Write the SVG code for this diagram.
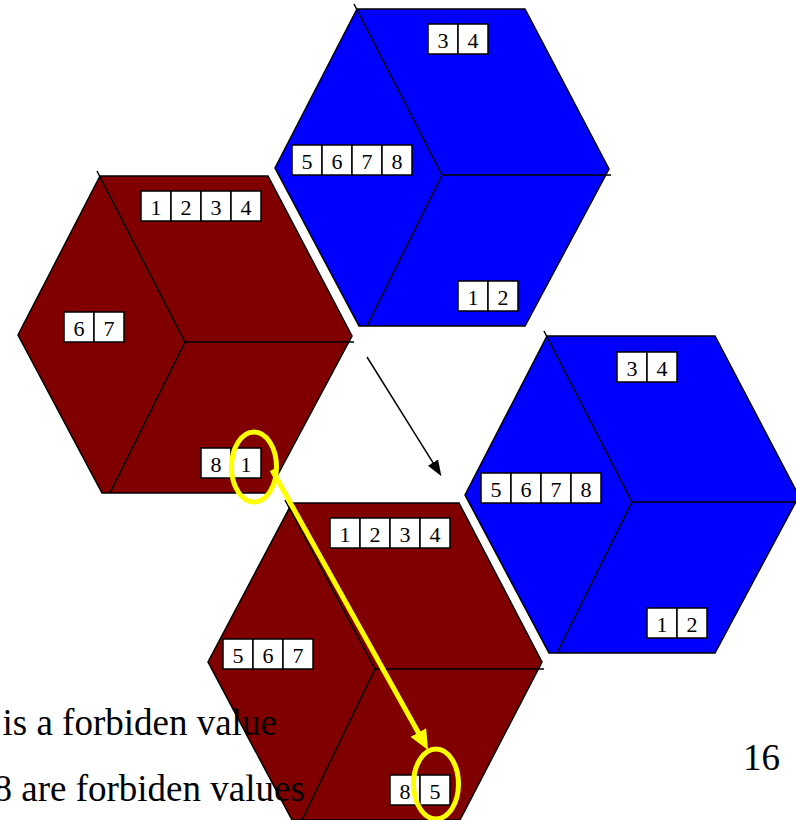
<svg xmlns="http://www.w3.org/2000/svg" width="796" height="820" viewBox="0 0 796 820">
<style>
.blue{fill:#0000FF;stroke:#000;stroke-width:1.5;stroke-linejoin:miter}
.red{fill:#800000;stroke:#000;stroke-width:1.5;stroke-linejoin:miter}
.edge{fill:none;stroke:#000;stroke-width:1.5}
.cell{fill:#fff;stroke:#000;stroke-width:1.5}
.d{font-family:"Liberation Serif","Times New Roman",serif;font-size:22px;fill:#000;text-anchor:middle}
.note{font-family:"Liberation Serif","Times New Roman",serif;font-size:37px;fill:#000}
.yl{fill:none;stroke:#FFFF00;stroke-width:5}
</style>
<defs>
<marker id="blackhead" markerUnits="userSpaceOnUse" markerWidth="16" markerHeight="12" refX="5" refY="6" orient="auto">
<path d="M0,0 L16,6 L0,12 z" fill="#000"/>
</marker>
<marker id="yellowhead" markerUnits="userSpaceOnUse" markerWidth="20" markerHeight="18" refX="8" refY="9" orient="auto">
<path d="M0,0 L20,9 L0,18 z" fill="#FFFF00"/>
</marker>
</defs>

<g id="cube-blue-top" transform="translate(357,9)">
<polygon class="blue" points="0,0 168,0 252,160 168,317 2,317 -82,159"/>
<path class="edge" d="M-3,-5 L85,166 L10,317 M85,166 L254,166"/>
</g>
<g id="labels-blue-top">
<rect class="cell" x="428" y="24" width="30" height="30"/><rect class="cell" x="458" y="24" width="30" height="30"/>
<text class="d" x="443" y="47.5">3</text><text class="d" x="473" y="47.5">4</text>
<rect class="cell" x="292" y="145" width="30" height="30"/><rect class="cell" x="322" y="145" width="30" height="30"/><rect class="cell" x="352" y="145" width="30" height="30"/><rect class="cell" x="382" y="145" width="30" height="30"/>
<text class="d" x="307" y="168.5">5</text><text class="d" x="337" y="168.5">6</text><text class="d" x="367" y="168.5">7</text><text class="d" x="397" y="168.5">8</text>
<rect class="cell" x="458" y="281" width="30" height="30"/><rect class="cell" x="488" y="281" width="30" height="30"/>
<text class="d" x="473" y="304.5">1</text><text class="d" x="503" y="304.5">2</text>
</g>

<g id="cube-red-left" transform="translate(100,176)">
<polygon class="red" points="0,0 168,0 252,160 168,317 2,317 -82,159"/>
<path class="edge" d="M-3,-5 L85,166 L10,317 M85,166 L254,166"/>
</g>
<g id="labels-red-left">
<rect class="cell" x="141" y="191" width="30" height="30"/><rect class="cell" x="171" y="191" width="30" height="30"/><rect class="cell" x="201" y="191" width="30" height="30"/><rect class="cell" x="231" y="191" width="30" height="30"/>
<text class="d" x="156" y="214.5">1</text><text class="d" x="186" y="214.5">2</text><text class="d" x="216" y="214.5">3</text><text class="d" x="246" y="214.5">4</text>
<rect class="cell" x="64" y="312" width="30" height="30"/><rect class="cell" x="94" y="312" width="30" height="30"/>
<text class="d" x="79" y="335.5">6</text><text class="d" x="109" y="335.5">7</text>
<rect class="cell" x="201" y="448" width="30" height="30"/><rect class="cell" x="231" y="448" width="30" height="30"/>
<text class="d" x="216" y="471.5">8</text><text class="d" x="246" y="471.5">1</text>
</g>

<g id="cube-blue-right" transform="translate(547,336)">
<polygon class="blue" points="0,0 168,0 252,160 168,317 2,317 -82,159"/>
<path class="edge" d="M-3,-5 L85,166 L10,317 M85,166 L254,166"/>
</g>
<g id="labels-blue-right">
<rect class="cell" x="617" y="352" width="30" height="30"/><rect class="cell" x="647" y="352" width="30" height="30"/>
<text class="d" x="632" y="375.5">3</text><text class="d" x="662" y="375.5">4</text>
<rect class="cell" x="481" y="473" width="30" height="30"/><rect class="cell" x="511" y="473" width="30" height="30"/><rect class="cell" x="541" y="473" width="30" height="30"/><rect class="cell" x="571" y="473" width="30" height="30"/>
<text class="d" x="496" y="496.5">5</text><text class="d" x="526" y="496.5">6</text><text class="d" x="556" y="496.5">7</text><text class="d" x="586" y="496.5">8</text>
<rect class="cell" x="647" y="608" width="30" height="30"/><rect class="cell" x="677" y="608" width="30" height="30"/>
<text class="d" x="662" y="631.5">1</text><text class="d" x="692" y="631.5">2</text>
</g>

<g id="cube-red-bottom" transform="translate(292,503)">
<polygon class="red" points="0,0 167,0 250,159 168,317 0,317 -84,159"/>
<path class="edge" d="M-7,-3 L83,166 L10,317 M83,166 L252,166"/>
</g>
<g id="labels-red-bottom">
<rect class="cell" x="330" y="518" width="30" height="30"/><rect class="cell" x="360" y="518" width="30" height="30"/><rect class="cell" x="390" y="518" width="30" height="30"/><rect class="cell" x="420" y="518" width="30" height="30"/>
<text class="d" x="345" y="541.5">1</text><text class="d" x="375" y="541.5">2</text><text class="d" x="405" y="541.5">3</text><text class="d" x="435" y="541.5">4</text>
<rect class="cell" x="223" y="639" width="30" height="30"/><rect class="cell" x="253" y="639" width="30" height="30"/><rect class="cell" x="283" y="639" width="30" height="30"/>
<text class="d" x="238" y="662.5">5</text><text class="d" x="268" y="662.5">6</text><text class="d" x="298" y="662.5">7</text>
<rect class="cell" x="390" y="775" width="30" height="30"/><rect class="cell" x="420" y="775" width="30" height="30"/>
<text class="d" x="405" y="798.5">8</text><text class="d" x="435" y="798.5">5</text>
</g>

<g id="notes">
<text class="note" x="2.5" y="735">is a forbiden value</text>
<text class="note" x="-6.5" y="801">8 are forbiden values</text>
<text class="note" x="743" y="770">16</text>
</g>

<g id="connectors">
<line x1="367" y1="357" x2="435.6" y2="466.8" stroke="#000" stroke-width="1.5" marker-end="url(#blackhead)"/>
<line x1="272" y1="470" x2="422.2" y2="739.5" stroke="#FFFF00" stroke-width="5" marker-end="url(#yellowhead)"/>
<ellipse class="yl" cx="254" cy="467" rx="22.5" ry="35"/>
<ellipse class="yl" cx="436" cy="784" rx="22.5" ry="35"/>
</g>
</svg>
